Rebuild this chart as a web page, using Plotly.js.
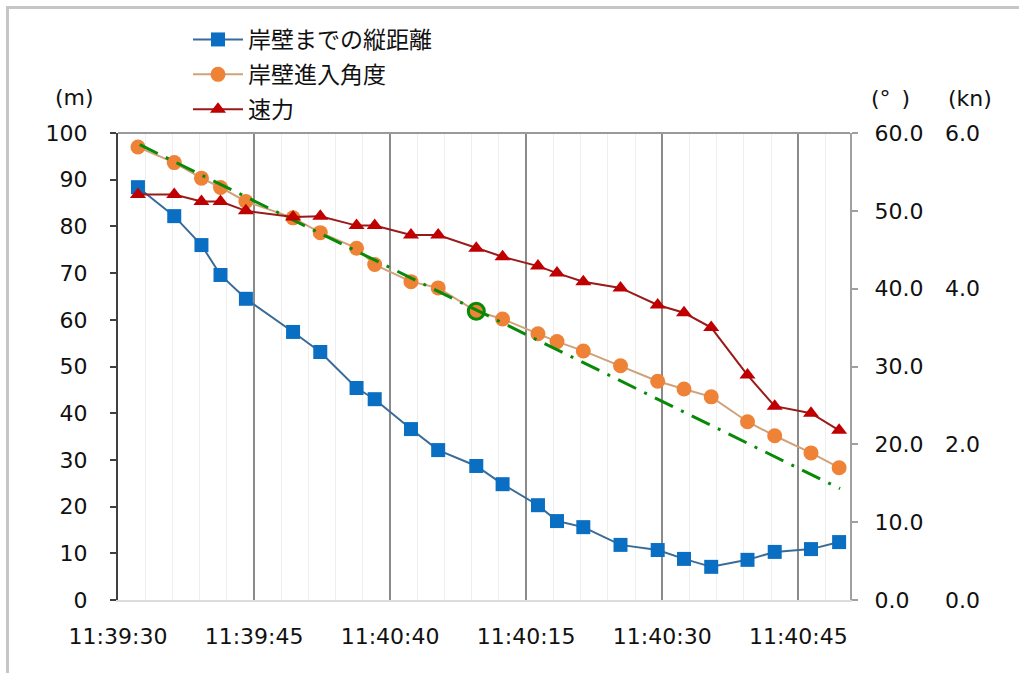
<!DOCTYPE html>
<html>
<head>
<meta charset="utf-8">
<script src="https://cdn.plot.ly/plotly-3.0.1.min.js"></script>
<style>
  html, body { margin: 0; padding: 0; background: #fff; }
  #wrap { position: relative; width: 1019px; height: 673px; }
  #chart { position: absolute; left: 0; top: 0; width: 1019px; height: 673px; }
  #frame { position: absolute; left: 6px; top: 6px; width: 1013px; height: 667px;
           border-left: 3px solid #c6c6c6; border-top: 3px solid #c6c6c6; pointer-events: none; box-sizing: border-box; }
</style>
</head>
<body>
<div id="wrap"><div id="chart"></div><div id="frame"></div></div>
<script>
// ---- data (seconds after 11:39:30) ----
const timeTickSec = [0, 15, 30, 45, 60, 75];
const timeLabels = ['11:39:30', '11:39:45', '11:40:40', '11:40:15', '11:40:30', '11:40:45'];

const elapsedSec = [2.2, 6.2, 9.2, 11.3, 14.1, 19.3, 22.3, 26.3, 28.3, 32.3, 35.3, 39.5,
                    42.4, 46.3, 48.4, 51.3, 55.4, 59.5, 62.4, 65.4, 69.4, 72.4, 76.4, 79.5];

const distanceM = [88.4, 82.2, 76.0, 69.6, 64.5, 57.4, 53.1, 45.4, 43.0, 36.6, 32.1, 28.7,
                   24.8, 20.3, 16.9, 15.6, 11.8, 10.7, 8.8, 7.1, 8.6, 10.3, 10.9, 12.4];

const angleDeg = [58.2, 56.2, 54.2, 53.0, 51.2, 49.1, 47.2, 45.2, 43.1, 40.9, 40.1, 37.1,
                  36.1, 34.2, 33.2, 32.0, 30.1, 28.1, 27.1, 26.1, 22.9, 21.1, 18.9, 17.0];

const speedKn = [5.21, 5.21, 5.12, 5.12, 5.00, 4.92, 4.93, 4.81, 4.81, 4.69, 4.69, 4.52,
                 4.41, 4.29, 4.20, 4.09, 4.01, 3.79, 3.69, 3.50, 2.89, 2.49, 2.40, 2.18];

const trendSec = [2.4, 79.6];
const trendDeg = [58.5, 14.3];
const markedIndex = 11;

const seriesNames = ['岸壁までの縦距離', '岸壁進入角度', '速力'];

// ---- traces ----
const traces = [
  {
    name: seriesNames[2], x: elapsedSec, y: speedKn, yaxis: 'y3',
    mode: 'lines+markers', legendrank: 3, legendgroup: 'c',
    line: { color: '#9a1a1a', width: 2 },
    marker: { symbol: 'triangle-up', size: 14, color: '#c00000' }
  },
  {
    name: seriesNames[0], x: elapsedSec, y: distanceM, yaxis: 'y',
    mode: 'lines+markers', legendrank: 1, legendgroup: 'a',
    line: { color: '#3a6b98', width: 2 },
    marker: { symbol: 'square', size: 14, color: '#0a6fc2' }
  },
  {
    name: seriesNames[1], x: elapsedSec, y: angleDeg, yaxis: 'y2',
    mode: 'lines+markers', legendrank: 2, legendgroup: 'b',
    line: { color: '#cfa27c', width: 2 },
    marker: { symbol: 'circle', size: 15, color: '#ee8236' }
  },
  {
    x: trendSec, y: trendDeg, yaxis: 'y2', mode: 'lines', showlegend: false,
    line: { color: '#078a07', width: 3, dash: '20px,9px,3px,9px' }
  },
  {
    x: [elapsedSec[markedIndex]], y: [angleDeg[markedIndex]], yaxis: 'y2',
    mode: 'markers', showlegend: false,
    marker: { symbol: 'circle-open', size: 16, color: '#078a07', line: { color: '#078a07', width: 3 } }
  }
];

const W = 1019, H = 673, ML = 118, MR = 20, MT = 133, MB = 73;
const PW = W - ML - MR, PH = H - MT - MB;
const px = v => (v - ML) / PW;
const py = v => (H - MB - v) / PH;

const layout = {
  width: W, height: H,
  margin: { l: ML, r: MR, t: MT, b: MB, pad: 0 },
  paper_bgcolor: 'rgba(0,0,0,0)', plot_bgcolor: '#ffffff',
  font: { family: 'DejaVu Sans', size: 22, color: '#111111' },
  showlegend: true,
  legend: {
    x: px(188), y: py(18), xanchor: 'left', yanchor: 'top',
    bgcolor: 'rgba(0,0,0,0)', borderwidth: 0, tracegroupgap: 2, itemwidth: 50,
    font: { family: 'Noto Sans CJK JP', size: 23, color: '#111111' }
  },
  xaxis: {
    range: [0, 80.7], domain: [0, 732 / PW],
    tickmode: 'array', tickvals: timeTickSec, ticktext: timeLabels,
    showgrid: true, gridcolor: '#8a8a8a', gridwidth: 2,
    minor: { dtick: 3, tick0: 0, showgrid: true, gridcolor: '#eeeeee', gridwidth: 1, ticks: '' },
    showline: true, linecolor: '#dcdcdc', linewidth: 2,
    ticks: '', zeroline: false, ticklabelstandoff: 16
  },
  yaxis: {
    range: [0, 100], dtick: 10, showgrid: false, zeroline: false,
    showline: true, linecolor: '#404040', linewidth: 2,
    ticks: 'outside', ticklen: 6, tickcolor: '#404040', tickwidth: 2,
    ticklabelstandoff: 18
  },
  yaxis2: {
    overlaying: 'y', side: 'right', anchor: 'x',
    range: [0, 60], dtick: 10, tickformat: '.1f',
    showgrid: false, zeroline: false,
    showline: true, linecolor: '#a0a0a0', linewidth: 2,
    ticks: 'outside', ticklen: 6, tickcolor: '#a0a0a0', tickwidth: 2,
    ticklabelstandoff: 12
  },
  yaxis3: {
    overlaying: 'y', side: 'right', anchor: 'free', position: px(944),
    range: [0, 6], tickvals: [0, 2, 4, 6], tickformat: '.1f',
    showgrid: false, zeroline: false, showline: false, ticks: ''
  },
  shapes: [
    { type: 'line', xref: 'paper', yref: 'paper', x0: 0, x1: 732 / PW, y0: 1, y1: 1,
      line: { color: '#9a9a9a', width: 2 } }
  ],
  annotations: [
    { text: '(m)', xref: 'paper', yref: 'paper', x: px(74), y: py(97), showarrow: false,
      xanchor: 'center', yanchor: 'middle', font: { size: 22 } },
    { text: '(°\u2002)', xref: 'paper', yref: 'paper', x: px(890), y: py(98), showarrow: false,
      xanchor: 'center', yanchor: 'middle', font: { size: 22 } },
    { text: '(kn)', xref: 'paper', yref: 'paper', x: px(970), y: py(98), showarrow: false,
      xanchor: 'center', yanchor: 'middle', font: { size: 22 } }
  ]
};

Plotly.newPlot('chart', traces, layout, { staticPlot: true, displayModeBar: false });
</script>
</body>
</html>
